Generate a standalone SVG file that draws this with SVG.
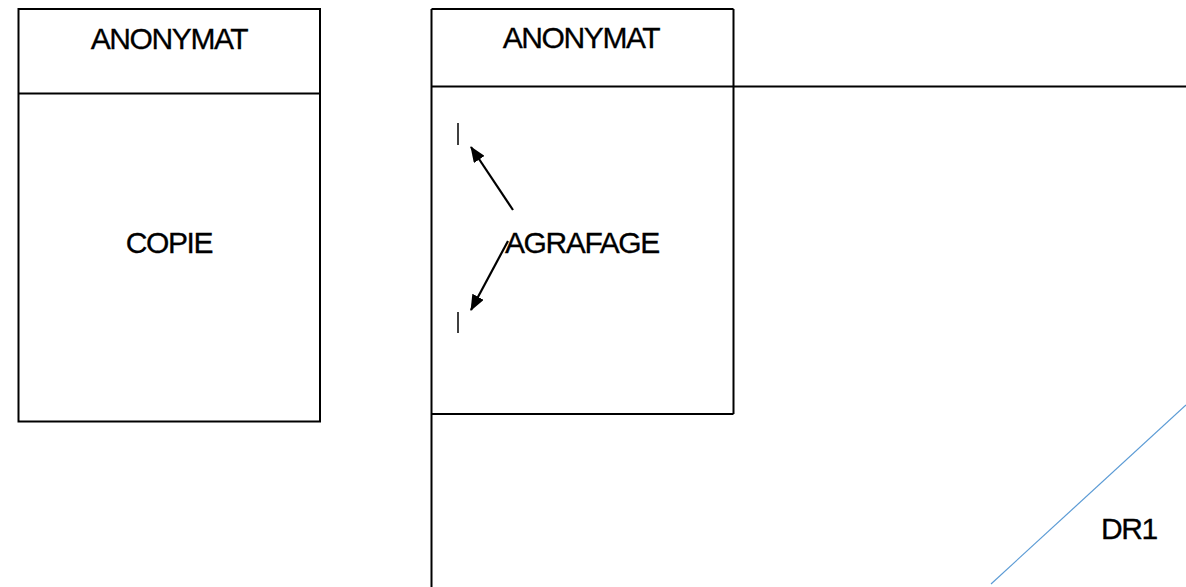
<svg xmlns="http://www.w3.org/2000/svg" width="1186" height="587" viewBox="0 0 1186 587">
<style>
.box{fill:none;stroke:#000;stroke-width:2}
.ln{stroke:#000;stroke-width:2;fill:none}
.t{font-family:"Liberation Sans",Arial,sans-serif;font-size:30px;fill:#000;letter-spacing:-1.4px;stroke:#000;stroke-width:0.3px}
.arr{stroke:#000;stroke-width:2.2;fill:none;marker-end:url(#ah)}
</style>
<defs>
<marker id="ah" viewBox="0 0 16 13" refX="15" refY="6.5" markerWidth="16" markerHeight="13" markerUnits="userSpaceOnUse" orient="auto">
<path d="M0,0 L16,6.5 L0,13 Z" fill="#000"/>
</marker>
</defs>
<rect width="1186" height="587" fill="#fff"/>
<g id="copie">
<rect class="box" x="18.5" y="9" width="301.5" height="412.5"/>
<line class="ln" x1="18.5" y1="93.5" x2="320" y2="93.5"/>
<text class="t" x="169" y="48.5" text-anchor="middle">ANONYMAT</text>
<text class="t" x="169" y="253" text-anchor="middle">COPIE</text>
</g>
<g id="dr1">
<line class="ln" x1="431.5" y1="9" x2="431.5" y2="587"/>
<line class="ln" x1="431.5" y1="9" x2="733.5" y2="9"/>
<line class="ln" x1="733.5" y1="9" x2="733.5" y2="414"/>
<line class="ln" x1="431.5" y1="414" x2="733.5" y2="414"/>
<line class="ln" x1="431.5" y1="86.5" x2="1186" y2="86.5"/>
<text class="t" x="581" y="48" text-anchor="middle">ANONYMAT</text>
<line x1="991" y1="584" x2="1186" y2="405" stroke="#5B9BD5" stroke-width="1.2"/>
<text class="t" x="1101" y="539">DR1</text>
</g>
<g id="agrafage">
<line x1="458" y1="123" x2="458" y2="145" stroke="#000" stroke-width="1.5"/>
<line x1="458" y1="312" x2="458" y2="333" stroke="#000" stroke-width="1.5"/>
<text class="t" x="505" y="253">AGRAFAGE</text>
</g>
<g id="connectors">
<line class="arr" x1="513" y1="210" x2="471" y2="147"/>
<line class="arr" x1="508" y1="241" x2="471" y2="310"/>
</g>
</svg>
